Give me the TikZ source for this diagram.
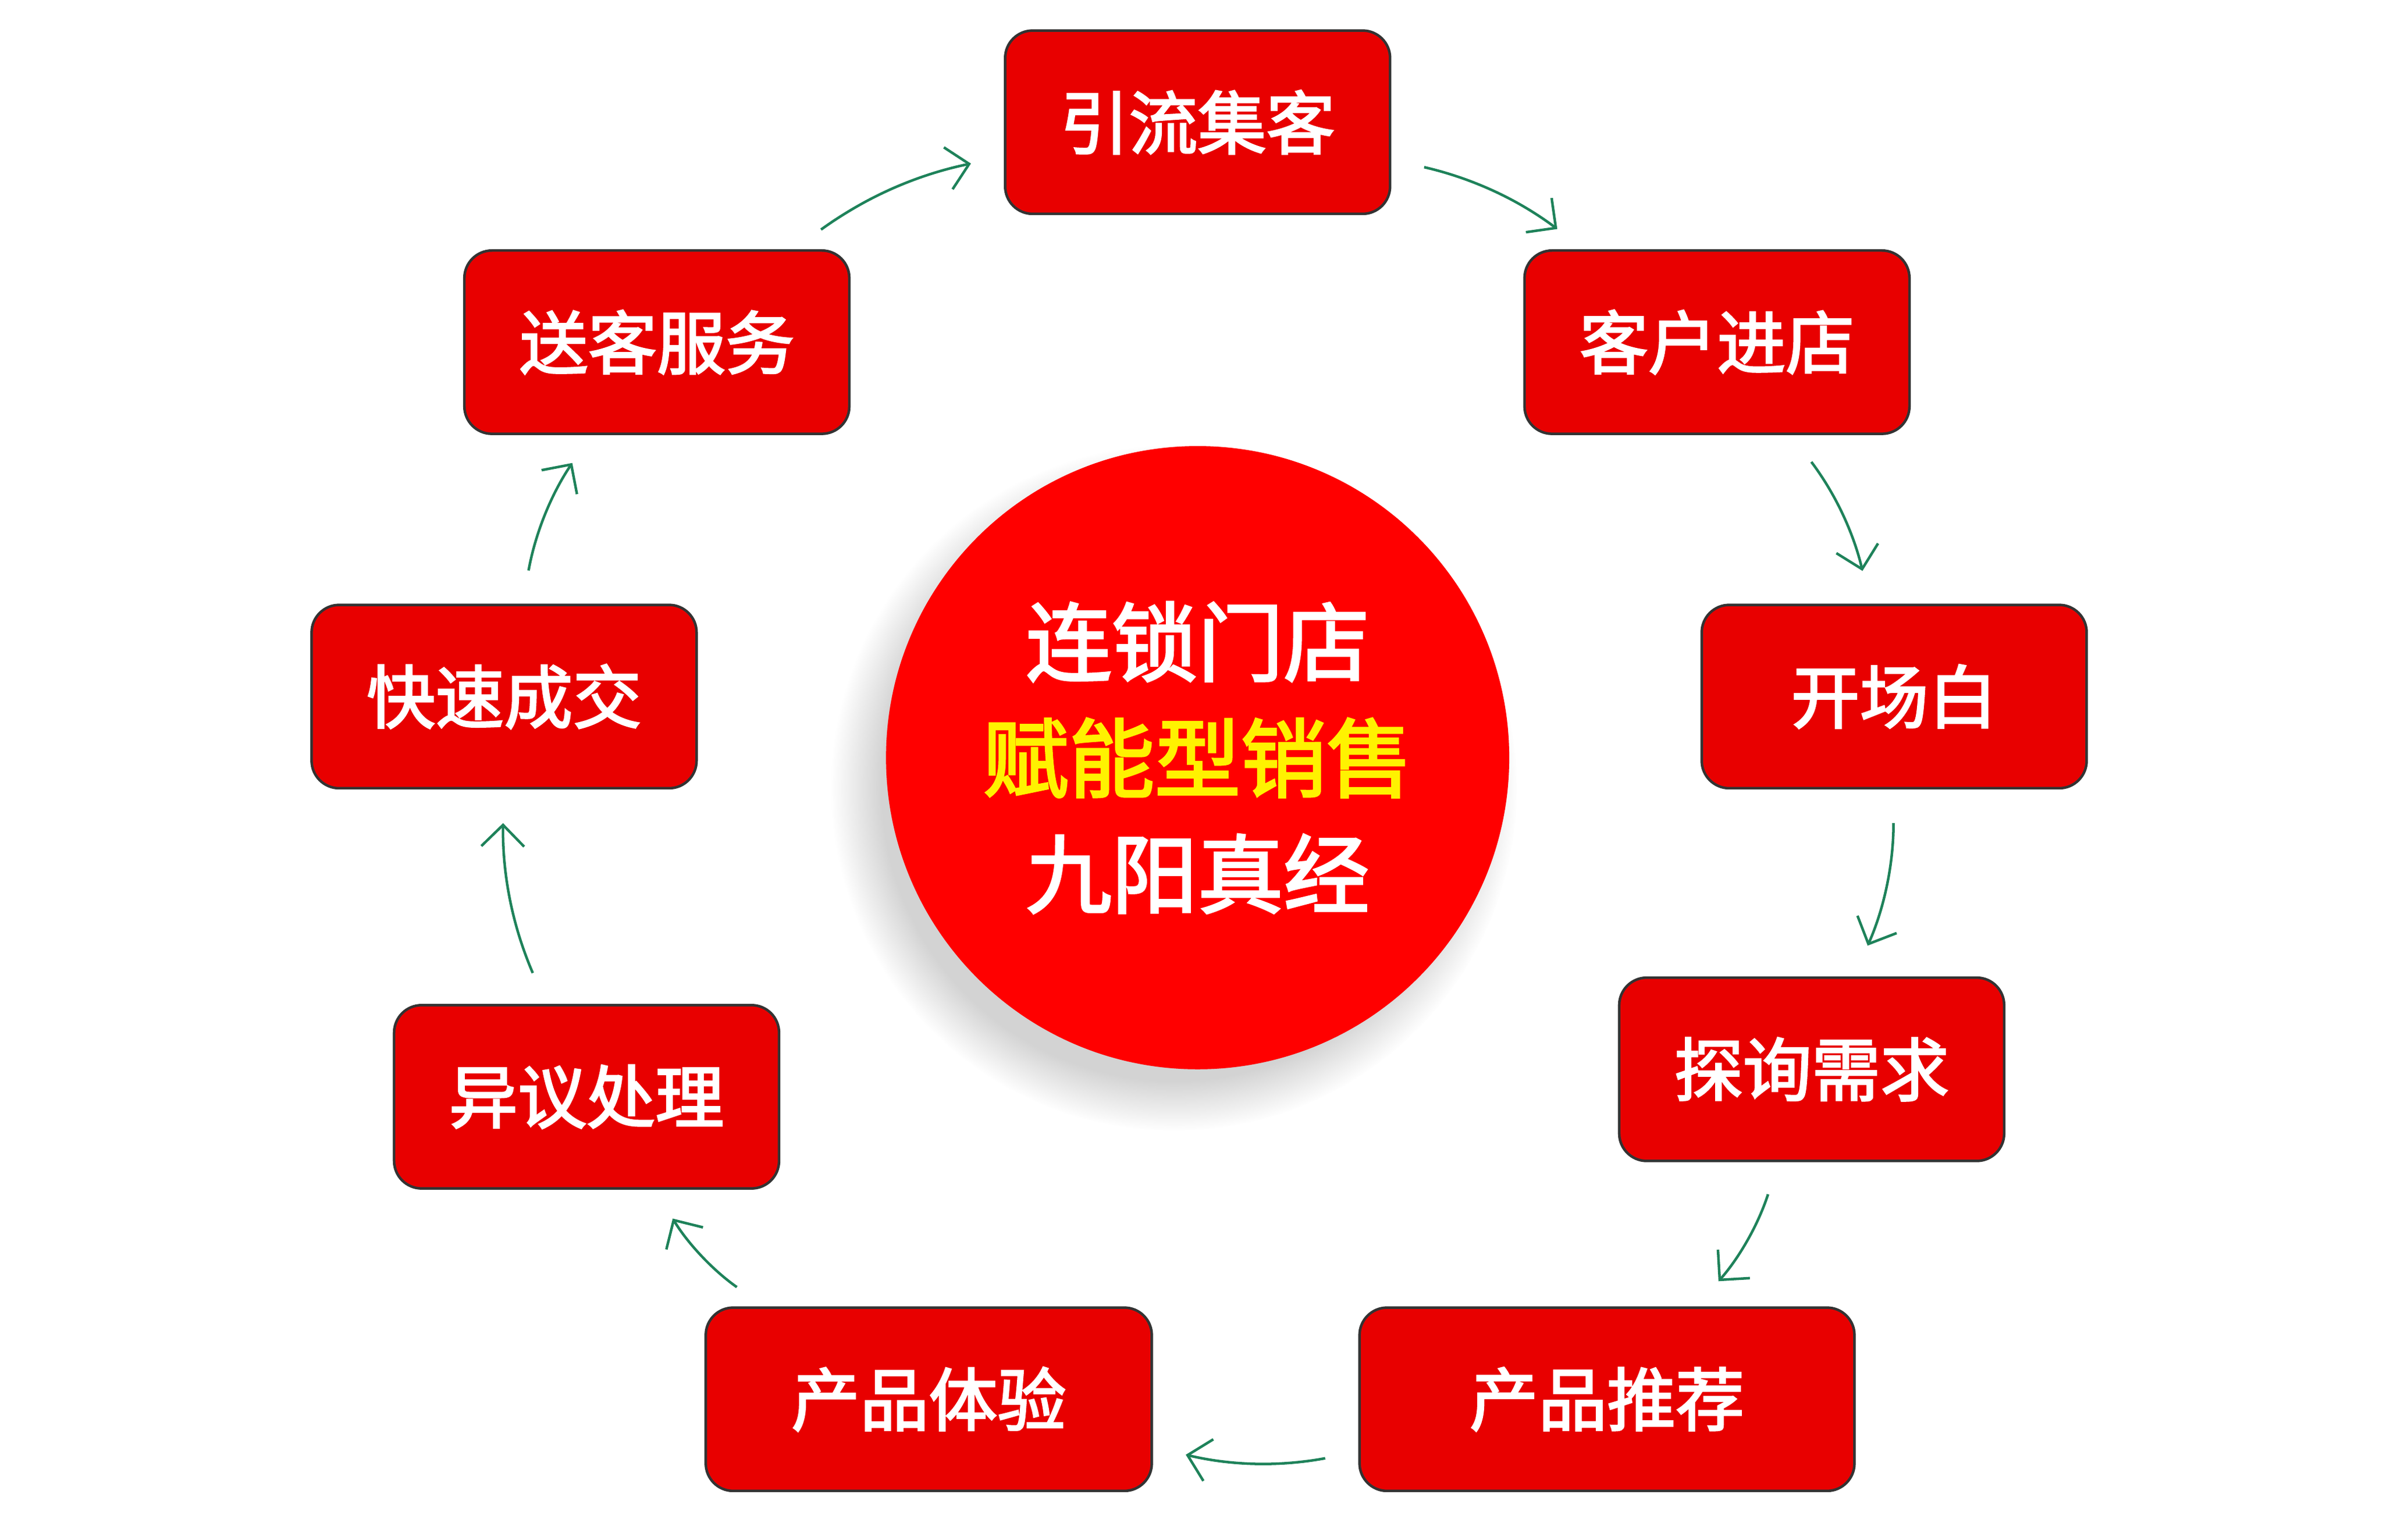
\documentclass[tikz,border=0pt]{standalone}
\usepackage{fontspec}
\newfontfamily\cjk{Noto Sans CJK SC}[AutoFakeBold=2.5]
\usetikzlibrary{shadows,arrows.meta}
\definecolor{boxred}{RGB}{232,0,0}
\definecolor{arrowgreen}{RGB}{30,130,90}
\begin{document}
\begin{tikzpicture}[
            stepbox/.style={
                rectangle,
                rounded corners=0.45cm,
                draw=black!80,
                line width=1.2pt,
                fill=boxred,
                minimum width=6.3cm,
                minimum height=3cm,
                text=white,
                font=\cjk\bfseries\fontsize{32}{36}\selectfont
            },
            hub/.style={
                circle,
                fill=red,
                minimum size=10.2cm,
                align=center,
                text=white,
                circular drop shadow={shadow xshift=-0.35cm, shadow yshift=-0.45cm, opacity=0.35},
                font=\cjk\bfseries\fontsize{40}{54}\selectfont
            },
            arrow/.style={->, >={Straight Barb[length=0.35cm]}, arrowgreen, line width=1.2pt,
                bend left=12, shorten <=0.55cm, shorten >=0.55cm}
        ]
        \useasboundingbox (0,0) rectangle (39,-25.2);

        % Center circle
        \node[hub] (core) at (19.6,-12.4) {连锁门店\\\textcolor{yellow}{赋能型销售}\\九阳真经};

        % Steps around the circle
        \node[stepbox] (s1) at (19.6,-2) {引流集客};
        \node[stepbox] (s2) at (28.1,-5.6) {客户进店};
        \node[stepbox] (s3) at (31,-11.4) {开场白};
        \node[stepbox] (s4) at (29.65,-17.5) {探询需求};
        \node[stepbox, minimum width=8.1cm] (s5) at (26.3,-22.9) {产品推荐};
        \node[stepbox, minimum width=7.3cm] (s6) at (15.2,-22.9) {产品体验};
        \node[stepbox] (s7) at (9.6,-17.95) {异议处理};
        \node[stepbox] (s8) at (8.25,-11.4) {快速成交};
        \node[stepbox] (s9) at (10.75,-5.6) {送客服务};

        % Connecting arrows
        \draw[arrow] (s1) to (s2);
        \draw[arrow] (s2) to (s3);
        \draw[arrow] (s3) to (s4);
        \draw[arrow] (s4) to (s5);
        \draw[arrow] (s5) to (s6);
        \draw[arrow] (s6) to (s7);
        \draw[arrow] (s7) to (s8);
        \draw[arrow] (s8) to (s9);
        \draw[arrow] (s9) to (s1);

        \end{tikzpicture}
\end{document}
